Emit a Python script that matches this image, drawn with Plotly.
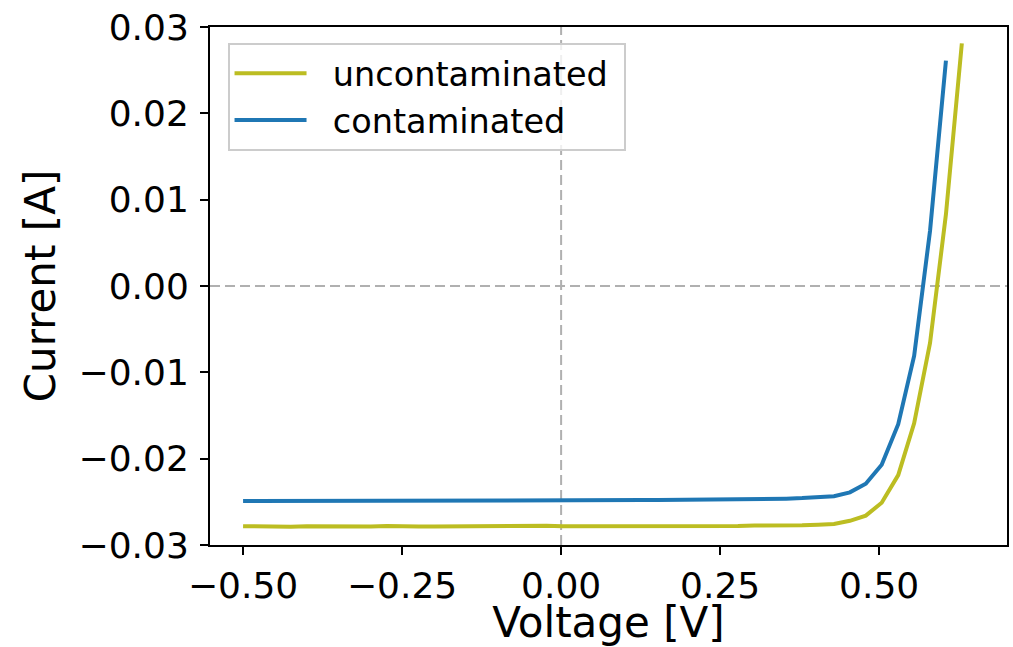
import plotly.graph_objects as go

voltage = [-0.500, -0.475, -0.450, -0.425, -0.400, -0.374, -0.349, -0.324, -0.299, -0.274,
           -0.249, -0.224, -0.199, -0.174, -0.148, -0.123, -0.098, -0.073, -0.048, -0.023,
           0.002, 0.027, 0.052, 0.078, 0.103, 0.128, 0.153, 0.178, 0.203, 0.228,
           0.253, 0.278, 0.304, 0.329, 0.354, 0.379, 0.404, 0.429, 0.454, 0.479,
           0.504, 0.530, 0.555, 0.580, 0.605, 0.630]

uncontaminated = [-0.02782, -0.02786, -0.02789, -0.02790, -0.02783, -0.02785, -0.02788, -0.02788, -0.02786, -0.02781,
                  -0.02788, -0.02787, -0.02785, -0.02783, -0.02784, -0.02788, -0.02788, -0.02786, -0.02783, -0.02778,
                  -0.02784, -0.02784, -0.02781, -0.02785, -0.02786, -0.02784, -0.02782, -0.02784, -0.02784, -0.02781,
                  -0.02781, -0.02779, -0.02774, -0.02776, -0.02775, -0.02772, -0.02765, -0.02756, -0.02720, -0.02660,
                  -0.02510, -0.02190, -0.01590, -0.00660, 0.00830, 0.02810]

contaminated = [-0.02491, -0.02491, -0.02490, -0.02490, -0.02489, -0.02490, -0.02488, -0.02488, -0.02487, -0.02487,
                -0.02487, -0.02486, -0.02486, -0.02486, -0.02485, -0.02486, -0.02485, -0.02485, -0.02484, -0.02484,
                -0.02483, -0.02483, -0.02482, -0.02482, -0.02481, -0.02480, -0.02479, -0.02478, -0.02477, -0.02476,
                -0.02474, -0.02472, -0.02470, -0.02467, -0.02463, -0.02457, -0.02450, -0.02435, -0.02390, -0.02290,
                -0.02070, -0.01600, -0.00810, 0.00640, 0.02610]

x_ticks = [-0.50, -0.25, 0.00, 0.25, 0.50]
x_tick_labels = ["\u22120.50", "\u22120.25", "0.00", "0.25", "0.50"]
y_ticks = [-0.03, -0.02, -0.01, 0.00, 0.01, 0.02, 0.03]
y_tick_labels = ["\u22120.03", "\u22120.02", "\u22120.01", "0.00", "0.01", "0.02", "0.03"]

series_names = ["uncontaminated", "contaminated"]

FONT = "DejaVu Sans"
PAD = "\u00a0\u00a0"

fig = go.Figure()
fig.add_trace(go.Scatter(x=voltage, y=uncontaminated, mode="lines", name=PAD + series_names[0] + "\u00a0",
                         line=dict(color="#bcbd22", width=4)))
fig.add_trace(go.Scatter(x=voltage[:len(contaminated)], y=contaminated, mode="lines",
                         name=PAD + series_names[1] + "\u00a0",
                         line=dict(color="#1f77b4", width=4)))

# dashed reference lines at 0
fig.add_hline(y=0, line=dict(color="#b0b0b0", width=2, dash="10px,5px"), layer="below")
fig.add_vline(x=0, line=dict(color="#b0b0b0", width=2, dash="10px,5px"), layer="below")

fig.update_layout(
    width=1013, height=647,
    margin=dict(l=210, r=6, t=27, b=102),
    paper_bgcolor="white", plot_bgcolor="white",
    font=dict(family=FONT, color="black", size=36),
    showlegend=True,
    legend=dict(
        x=0.022, y=0.969, xanchor="left", yanchor="top",
        bgcolor="rgba(255,255,255,0.8)", bordercolor="#cccccc", borderwidth=2,
        font=dict(family=FONT, size=33.5, color="black"),
        itemwidth=72, tracegroupgap=0,
    ),
)

fig.update_xaxes(
    range=[-0.552, 0.701], showgrid=False, zeroline=False,
    tickmode="array", tickvals=x_ticks, ticktext=x_tick_labels,
    ticks="outside", ticklen=8, tickwidth=2, tickcolor="black",
    showline=True, linecolor="black", linewidth=2, mirror=True,
    tickfont=dict(family=FONT, size=36, color="black"),
    title=dict(text="Voltage [V]", font=dict(family=FONT, size=42, color="black"), standoff=14),
    automargin=False,
)
fig.update_yaxes(
    range=[-0.03, 0.03], showgrid=False, zeroline=False,
    tickmode="array", tickvals=y_ticks, ticktext=y_tick_labels,
    ticks="outside", ticklen=8, tickwidth=2, tickcolor="black",
    showline=True, linecolor="black", linewidth=2, mirror=True,
    tickfont=dict(family=FONT, size=36, color="black"), ticklabelstandoff=4,
    title=dict(text="Current [A]", font=dict(family=FONT, size=42, color="black"), standoff=10),
    automargin=False,
)

fig.write_html("out.html")
